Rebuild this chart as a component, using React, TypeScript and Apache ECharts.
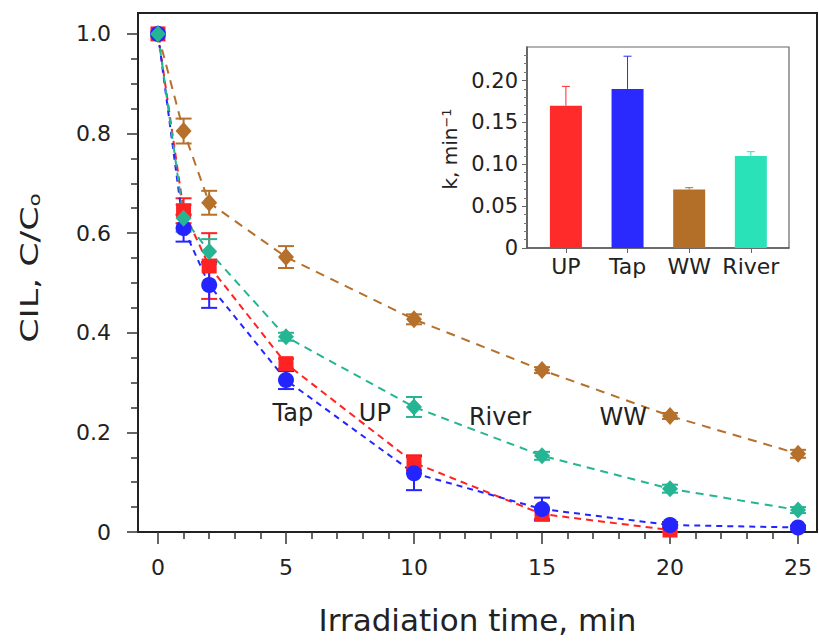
import React, { useEffect, useRef } from 'react';
import * as echarts from 'echarts';

// ---------- data ----------
const upTime = [0, 1, 2, 5, 10, 15, 20];
const upValues = [1.0, 0.645, 0.534, 0.338, 0.139, 0.036, 0.004];
const upErrors = [0, 0.025, 0.066, 0.01, 0.015, 0.01, 0.004];

const tapTime = [0, 1, 2, 5, 10, 15, 20, 25];
const tapValues = [1.0, 0.61, 0.496, 0.305, 0.118, 0.046, 0.014, 0.009];
const tapErrors = [0, 0.027, 0.046, 0.018, 0.034, 0.023, 0.006, 0.004];

const riverTime = [0, 1, 2, 5, 10, 15, 20, 25];
const riverValues = [1.0, 0.63, 0.563, 0.392, 0.251, 0.153, 0.087, 0.044];
const riverErrors = [0, 0.027, 0.025, 0.008, 0.02, 0.008, 0.008, 0.006];

const wwTime = [0, 1, 2, 5, 10, 15, 20, 25];
const wwValues = [1.0, 0.805, 0.661, 0.552, 0.427, 0.325, 0.233, 0.157];
const wwErrors = [0, 0.025, 0.024, 0.022, 0.01, 0.006, 0.006, 0.008];

const xTickLabels = [0, 5, 10, 15, 20, 25];
const xMinorTicks = [1, 2, 3, 4, 6, 7, 8, 9, 11, 12, 13, 14, 16, 17, 18, 19, 21, 22, 23, 24];
const yTickLabels = [0, 0.2, 0.4, 0.6, 0.8, 1.0];
const yMinorTicks = [0.05, 0.1, 0.15, 0.25, 0.3, 0.35, 0.45, 0.5, 0.55, 0.65, 0.7, 0.75, 0.85, 0.9, 0.95];

const curveLabels = ['Tap', 'UP', 'River', 'WW'];
const curveLabelX = [5.27, 8.47, 13.36, 18.17];
const curveLabelY = [0.238, 0.238, 0.23, 0.23];

const insetCategories = ['UP', 'Tap', 'WW', 'River'];
const insetPositions = [1, 2, 3, 4];
const insetK = [0.17, 0.19, 0.07, 0.11];
const insetKErr = [0.023, 0.039, 0.002, 0.005];
const insetYTicks = [0, 0.05, 0.1, 0.15, 0.2];
const insetYMinor = [0.01, 0.02, 0.03, 0.04, 0.06, 0.07, 0.08, 0.09, 0.11, 0.12, 0.13, 0.14, 0.16, 0.17, 0.18, 0.19, 0.21, 0.22, 0.23];

// ---------- styles ----------
const FONT = 'DejaVu Sans';
const RED = '#ff2222';
const BLUE = '#2424ff';
const BROWN = '#b5702c';
const TEAL = '#26b592';
const insetColors = ['#ff2a2a', '#2a2aff', '#b36e28', '#2ae2b8'];
const AXIS = '#222';

function errorRender(color: string, capHalf: number, lw: number, bothCaps: boolean) {
  return (params: any, api: any) => {
    const x = api.value(0);
    const lo = api.value(1);
    const hi = api.value(2);
    if (hi === lo) return null;
    const pLo = api.coord([x, lo]);
    const pHi = api.coord([x, hi]);
    const st = { stroke: color, lineWidth: lw };
    const children: any[] = [
      { type: 'line', shape: { x1: pLo[0], y1: pLo[1], x2: pHi[0], y2: pHi[1] }, style: st },
      { type: 'line', shape: { x1: pHi[0] - capHalf, y1: pHi[1], x2: pHi[0] + capHalf, y2: pHi[1] }, style: st },
    ];
    if (bothCaps) {
      children.push({ type: 'line', shape: { x1: pLo[0] - capHalf, y1: pLo[1], x2: pLo[0] + capHalf, y2: pLo[1] }, style: st });
    }
    return { type: 'group', children };
  };
}

function curve(name: string, t: number[], v: number[], e: number[], color: string, symbol: string, size: any, dash: number[]) {
  return [
    {
      type: 'custom',
      name: name + ' err',
      xAxisIndex: 0,
      yAxisIndex: 0,
      renderItem: errorRender(color, 8, 2, true),
      data: t.map((x, i) => [x, v[i] - e[i], v[i] + e[i]]),
      silent: true,
      z: 2,
    },
    {
      type: 'line',
      name,
      xAxisIndex: 0,
      yAxisIndex: 0,
      data: t.map((x, i) => [x, v[i]]),
      symbol,
      symbolSize: size,
      showAllSymbol: true,
      itemStyle: { color, opacity: 1 },
      lineStyle: { color, width: 2, type: dash },
      silent: true,
      z: 2,
    },
  ];
}

const titleGraphics: any[] = [
  {
    type: 'text',
    x: 30,
    y: 268,
    rotation: Math.PI / 2,
    scaleX: 1.45,
    silent: true,
    style: {
      text: '{a|CIL, C/C}{b|o}',
      rich: {
        a: { fontSize: 24, fontFamily: FONT, fill: AXIS, color: AXIS },
        b: { fontSize: 15, fontFamily: FONT, fill: AXIS, color: AXIS, verticalAlign: 'bottom' },
      },
      align: 'center',
      verticalAlign: 'middle',
      textAlign: 'center',
      textVerticalAlign: 'middle',
      fill: AXIS,
    },
  },
  {
    type: 'text',
    x: 450,
    y: 149,
    rotation: Math.PI / 2,
    silent: true,
    style: {
      text: '{a|k, min}{b|\u22121}',
      rich: {
        a: { fontSize: 20, fontFamily: FONT, fill: AXIS, color: AXIS },
        b: { fontSize: 13, fontFamily: FONT, fill: AXIS, color: AXIS, verticalAlign: 'top' },
      },
      align: 'center',
      verticalAlign: 'middle',
      textAlign: 'center',
      textVerticalAlign: 'middle',
      fill: AXIS,
    },
  },
];

export default function App() {
  const ref = useRef<HTMLDivElement>(null);
  useEffect(() => {
    if (!ref.current) return;
    const chart = echarts.init(ref.current, undefined, { renderer: 'svg' });
    const axisTickStyle = { color: '#333', width: 1.5 };
    const option: any = {
      animation: false,
      backgroundColor: '#fff',
      textStyle: { fontFamily: FONT },
      grid: [
        { left: 138, right: 2, top: 13, bottom: 110, show: true, borderColor: AXIS, borderWidth: 2 },
        { left: 527, right: 30, top: 47, bottom: 394, show: true, borderColor: '#666', borderWidth: 1.2 },
      ],
      xAxis: [
        {
          type: 'value', gridIndex: 0, min: -0.78, max: 25.74, position: 'bottom',
          axisLine: { show: true, onZero: false, lineStyle: { color: AXIS, width: 2 } },
          axisTick: { show: true, customValues: xTickLabels, length: 12, lineStyle: axisTickStyle },
          axisLabel: { show: true, customValues: xTickLabels, margin: 24, fontSize: 22, fontFamily: FONT, color: AXIS, formatter: (v: number) => String(v) },
          splitLine: { show: false },
          name: 'Irradiation time, min', nameLocation: 'middle', nameGap: 72,
          nameTextStyle: { fontSize: 31, fontFamily: FONT, color: AXIS },
        },
        {
          type: 'value', gridIndex: 0, min: -0.78, max: 25.74, position: 'bottom',
          axisLine: { show: false, onZero: false },
          axisTick: { show: true, customValues: xMinorTicks, length: 7, lineStyle: axisTickStyle },
          axisLabel: { show: false },
          splitLine: { show: false },
        },
        {
          type: 'value', gridIndex: 1, min: 0.369, max: 4.619, position: 'bottom',
          axisLine: { show: true, onZero: false, lineStyle: { color: '#555', width: 1.5 } },
          axisTick: { show: true, customValues: insetPositions, length: 5, lineStyle: { color: '#666', width: 1 } },
          axisLabel: {
            show: true, customValues: insetPositions, margin: 7, fontSize: 22, fontFamily: FONT, color: AXIS,
            formatter: (v: number) => insetCategories[Math.round(v) - 1] || '',
          },
          splitLine: { show: false },
        },
      ],
      yAxis: [
        {
          type: 'value', gridIndex: 0, min: 0, max: 1.042, position: 'left',
          axisLine: { show: true, onZero: false, lineStyle: { color: AXIS, width: 2 } },
          axisTick: { show: true, customValues: yTickLabels, length: 11, lineStyle: axisTickStyle },
          axisLabel: {
            show: true, customValues: yTickLabels, margin: 27, fontSize: 22, fontFamily: FONT, color: AXIS,
            formatter: (v: number) => (v === 0 ? '0' : v.toFixed(1)),
          },
          splitLine: { show: false },
        },
        {
          type: 'value', gridIndex: 0, min: 0, max: 1.042, position: 'left',
          axisLine: { show: false, onZero: false },
          axisTick: { show: true, customValues: yMinorTicks, length: 7, lineStyle: axisTickStyle },
          axisLabel: { show: false },
          splitLine: { show: false },
        },
        {
          type: 'value', gridIndex: 1, min: 0, max: 0.24, position: 'left',
          axisLine: { show: true, onZero: false, lineStyle: { color: '#555', width: 1.5 } },
          axisTick: { show: true, customValues: insetYTicks, length: 5, lineStyle: { color: '#666', width: 1 } },
          axisLabel: {
            show: true, customValues: insetYTicks, margin: 9, fontSize: 21, fontFamily: FONT, color: AXIS,
            formatter: (v: number) => (v === 0 ? '0' : v.toFixed(2)),
          },
          splitLine: { show: false },
        },
        {
          type: 'value', gridIndex: 1, min: 0, max: 0.24, position: 'left',
          axisLine: { show: false, onZero: false },
          axisTick: { show: true, customValues: insetYMinor, length: 3, lineStyle: { color: '#777', width: 1 } },
          axisLabel: { show: false },
          splitLine: { show: false },
        },
      ],
      series: [
        ...curve('WW', wwTime, wwValues, wwErrors, BROWN, 'diamond', [16, 18], [9, 7]),
        ...curve('UP', upTime, upValues, upErrors, RED, 'rect', 15, [7, 5]),
        ...curve('Tap', tapTime, tapValues, tapErrors, BLUE, 'circle', 16, [6, 5]),
        ...curve('River', riverTime, riverValues, riverErrors, TEAL, 'diamond', [16, 17], [8, 6]),
        {
          type: 'bar',
          xAxisIndex: 2,
          yAxisIndex: 2,
          barWidth: 32,
          silent: true,
          data: insetK.map((k, i) => ({ value: [insetPositions[i], k], itemStyle: { color: insetColors[i] } })),
        },
        {
          type: 'custom',
          xAxisIndex: 2,
          yAxisIndex: 2,
          silent: true,
          renderItem: (params: any, api: any) => {
            const i = params.dataIndex;
            return errorRender(insetColors[i], 4, 1, false)(params, api);
          },
          data: insetK.map((k, i) => [insetPositions[i], k, k + insetKErr[i]]),
          z: 3,
        },
      ],
      graphic: titleGraphics,
    };
    chart.setOption(option);

    // curve name labels positioned through the main grid's scales
    const labelGraphics = curveLabels.map((n, i) => {
      const p = chart.convertToPixel({ xAxisIndex: 0, yAxisIndex: 0 }, [curveLabelX[i], curveLabelY[i]]) as number[];
      return {
        type: 'text',
        x: p[0],
        y: p[1],
        silent: true,
        z: 10,
        style: {
          text: n,
          fontSize: 24,
          fontFamily: FONT,
          fill: AXIS,
          align: 'center',
          verticalAlign: 'middle',
          textAlign: 'center',
          textVerticalAlign: 'middle',
        },
      };
    });
    chart.setOption({ graphic: [...titleGraphics, ...labelGraphics] });
    return () => chart.dispose();
  }, []);
  return <div ref={ref} style={{ position: 'fixed', left: 0, top: 0, width: 819, height: 642 }} />;
}
